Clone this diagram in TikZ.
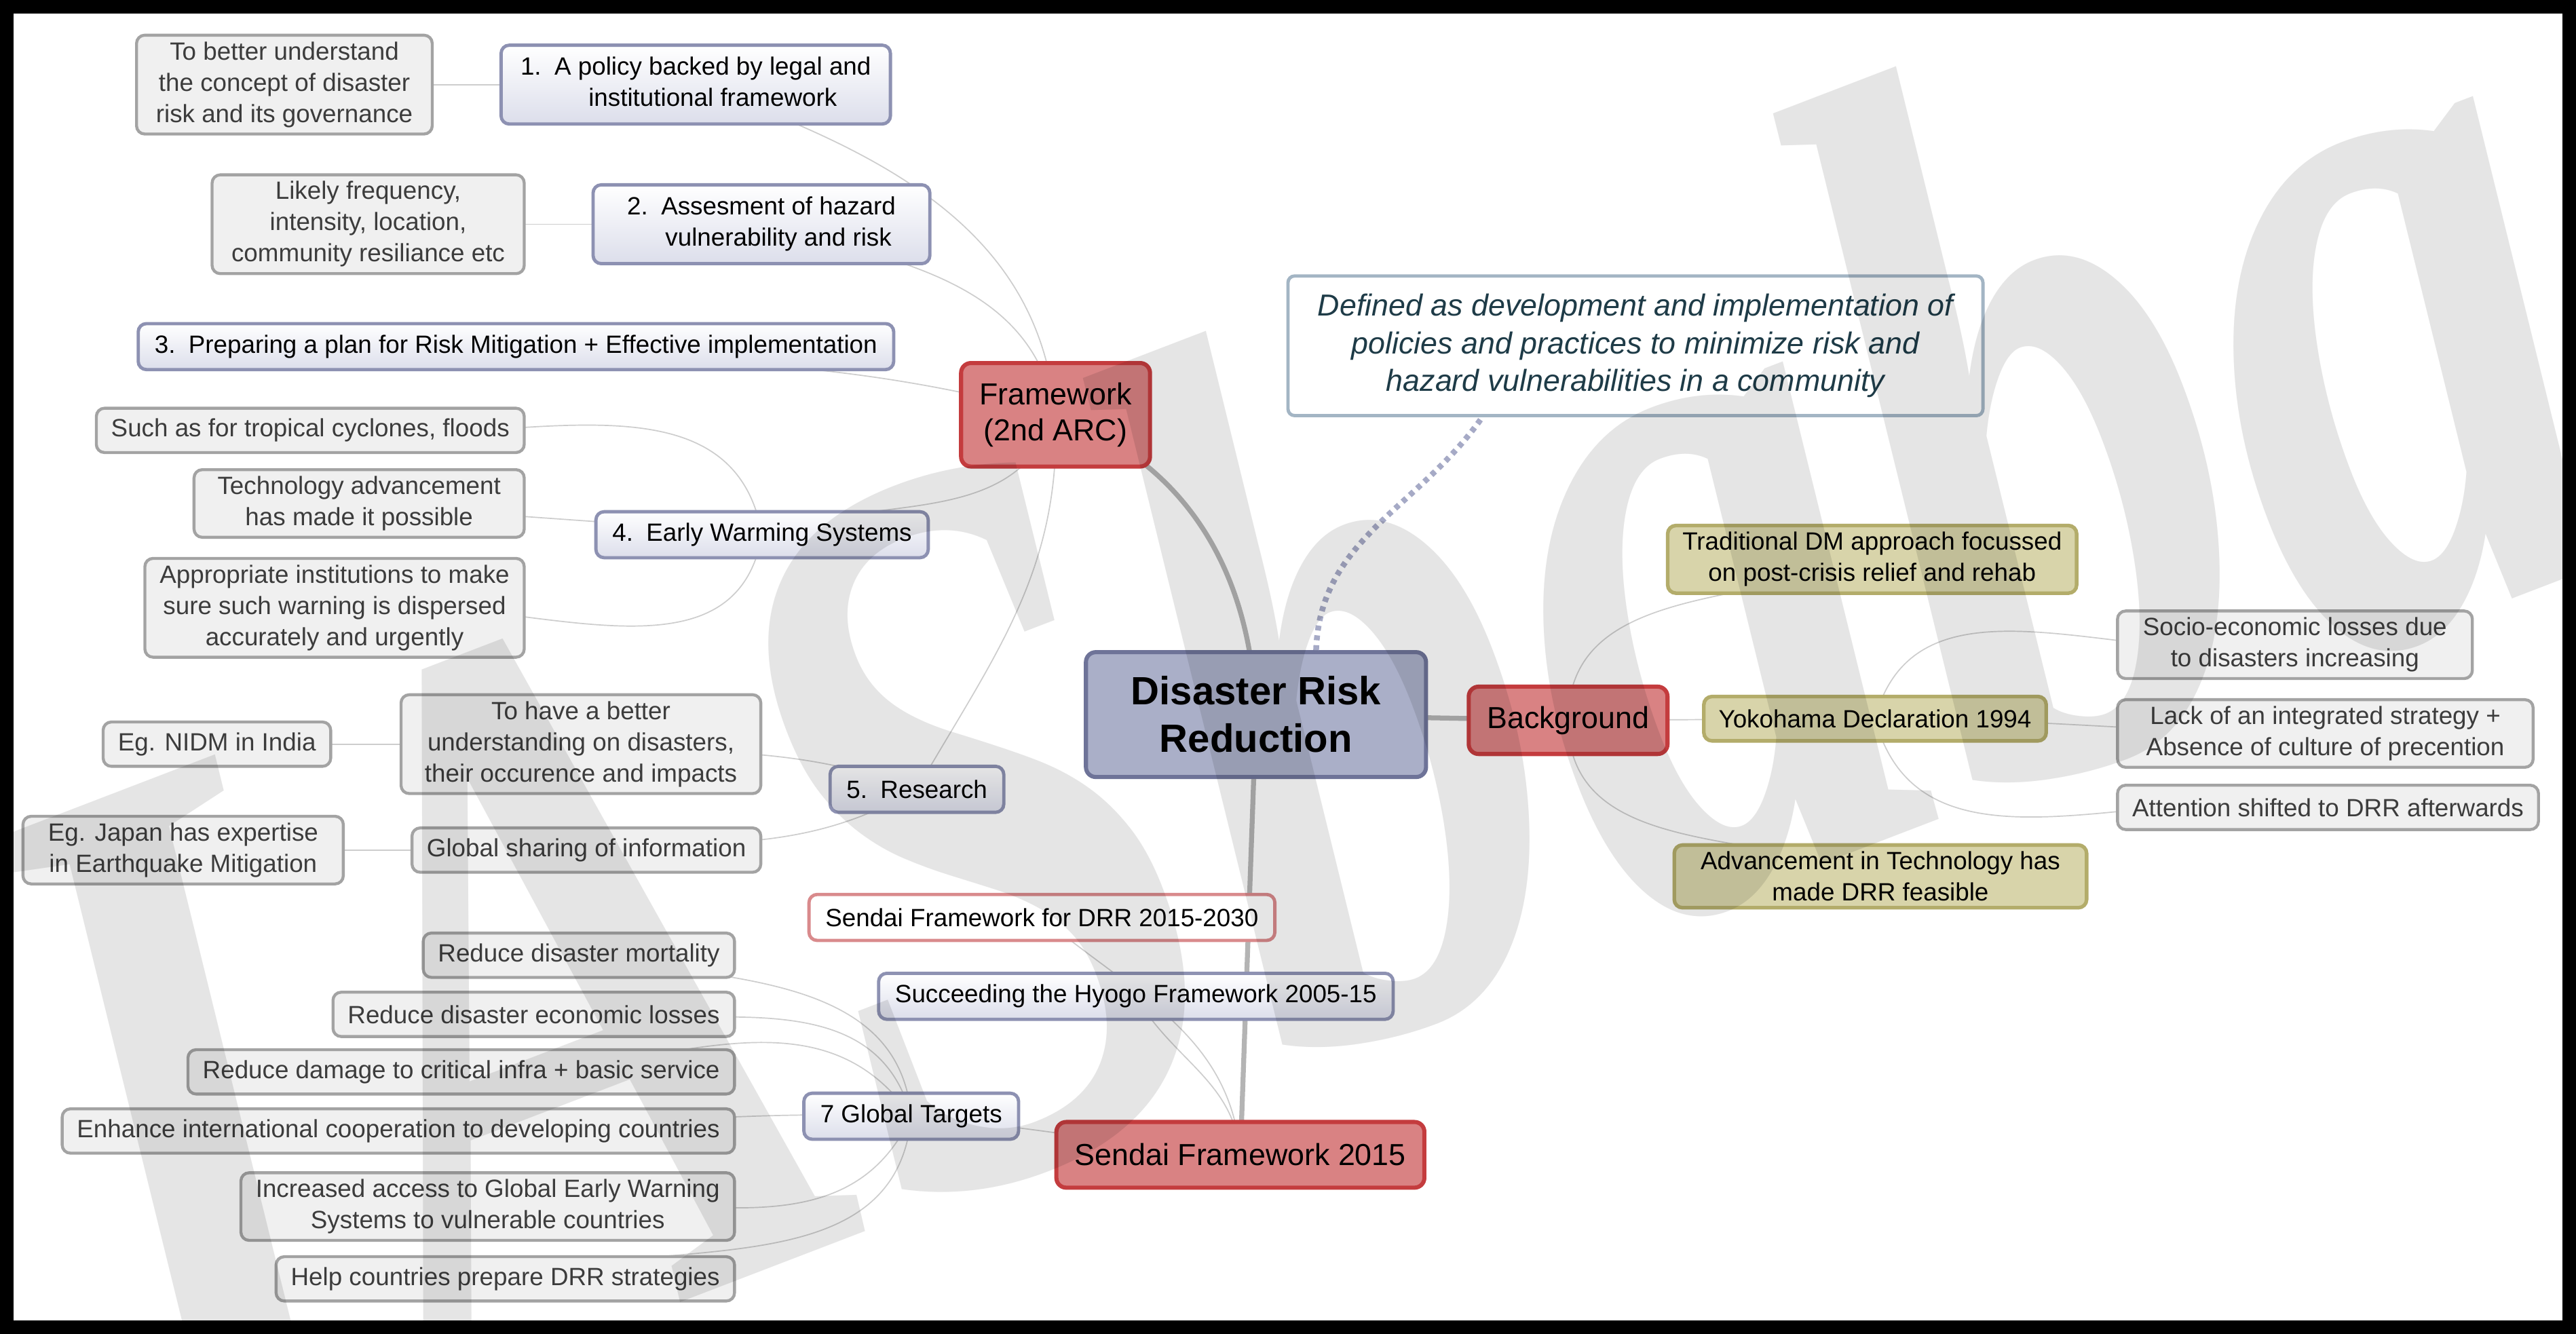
\documentclass[tikz,border=0pt]{standalone}
\usepackage{fontspec}
\setmainfont{Liberation Sans}
\newfontfamily\wmfont{Liberation Serif}
\usetikzlibrary{positioning,backgrounds}

\definecolor{drrFill}{RGB}{170,175,200}
\definecolor{drrEdge}{RGB}{110,115,152}
\definecolor{topicFill}{RGB}{217,130,131}
\definecolor{topicEdge}{RGB}{196,60,62}
\definecolor{subFill}{RGB}{220,222,235}
\definecolor{subEdge}{RGB}{141,145,178}
\definecolor{pinkEdge}{RGB}{217,138,140}
\definecolor{leafFill}{RGB}{240,240,240}
\definecolor{leafEdge}{RGB}{163,163,163}
\definecolor{leafText}{RGB}{60,60,60}
\definecolor{oliveFill}{RGB}{216,212,170}
\definecolor{oliveEdge}{RGB}{179,172,106}
\definecolor{noteEdge}{RGB}{163,181,196}
\definecolor{noteText}{RGB}{30,59,71}
\definecolor{branchGray}{RGB}{180,180,180}
\definecolor{twigGray}{RGB}{205,205,205}
\definecolor{dotLine}{RGB}{166,170,198}

\tikzset{
	root/.style={rounded corners=6pt, draw=drrEdge, fill=drrFill, line width=2.5pt,
		font=\fontsize{24}{29}\selectfont\bfseries, align=center,
		minimum width=207pt, minimum height=76pt},
	topic/.style={rounded corners=6pt, draw=topicEdge, fill=topicFill, line width=2.5pt,
		font=\fontsize{18.5}{22}\selectfont, align=center, inner sep=0pt},
	sub/.style={rounded corners=5pt, draw=subEdge, top color=white, bottom color=subFill,
		line width=2pt, font=\fontsize{15.2}{19}\selectfont, align=center,
		inner xsep=10pt, inner ysep=5pt, minimum height=28pt},
	subred/.style={sub, draw=pinkEdge, top color=white, bottom color=white},
	leaf/.style={rounded corners=5pt, draw=leafEdge, fill=leafFill, line width=1.8pt,
		text=leafText, font=\fontsize{15.2}{19}\selectfont, align=center,
		inner xsep=9pt, inner ysep=4pt, minimum height=27pt},
	olive/.style={leaf, draw=oliveEdge, fill=oliveFill, text=black, line width=2.2pt},
	note/.style={rounded corners=4pt, draw=noteEdge, fill=white, line width=2pt,
		text=noteText, font=\fontsize{18.5}{23}\selectfont\itshape, align=center,
		minimum width=423pt, minimum height=85pt},
	branch/.style={draw=branchGray, line width=3pt},
	twig/.style={draw=twigGray, line width=0.7pt},
}

\begin{document}
\begin{tikzpicture}[x=1pt,y=1pt]
\useasboundingbox (0,0) rectangle (1568,-812);
\begin{scope}[on background layer]
	\fill[black] (0,0) rectangle (1568,-812);
	\fill[white] (8.3,-8.3) rectangle (1559.7,-803.7);
\end{scope}

% main topics
\node[root] (drr) at (764.5,-435) {Disaster Risk\\Reduction};
\node[topic, minimum width=115pt, minimum height=63pt] (fw) at (642.5,-252.5) {Framework\\(2nd ARC)};
\node[topic, minimum width=121pt, minimum height=41pt] (bg) at (954.5,-438.5) {Background};
\node[topic, minimum width=224pt, minimum height=40pt] (sendai) at (755,-703) {Sendai Framework 2015};
\node[note] (def) at (995.5,-210.5) {Defined as development and implementation of\\policies and practices to minimize risk and\\hazard vulnerabilities in a community};

% framework
\node[sub, anchor=east, minimum width=237pt] (p1) at (543,-51.5) {1.\hspace{8pt}\begin{tabular}[t]{@{}c@{}}A policy backed by legal and\\institutional framework\end{tabular}};
\node[leaf, left=40pt of p1, minimum width=180pt] (p1note) {To better understand\\the concept of disaster\\risk and its governance};
\node[sub, anchor=east, minimum width=205pt] (p2) at (567,-136.5) {2.\hspace{8pt}\begin{tabular}[t]{@{}c@{}}Assesment of hazard\\vulnerability and risk\end{tabular}};
\node[leaf, left=40pt of p2, minimum width=190pt] (p2note) {Likely frequency,\\intensity, location,\\community resiliance etc};
\node[sub, anchor=east] (p3) at (545,-211) {3.\hspace{8pt}Preparing a plan for Risk Mitigation + Effective implementation};
\node[sub, anchor=east] (p4) at (566,-325.5) {4.\hspace{8pt}Early Warming Systems};
\node[leaf, anchor=east] (p4a) at (320,-262) {Such as for tropical cyclones, floods};
\node[leaf, anchor=east, minimum width=201pt] (p4b) at (320,-306.5) {Technology advancement\\has made it possible};
\node[leaf, anchor=east] (p4c) at (320,-370) {Appropriate institutions to make\\sure such warning is dispersed\\accurately and urgently};
\node[sub, anchor=east] (p5) at (612,-480.5) {5.\hspace{8pt}Research};
\node[leaf, anchor=east, minimum width=219pt] (p5a) at (464,-453) {To have a better\\understanding on disasters,\\their occurence and impacts};
\node[leaf, left=41pt of p5a, minimum width=134pt] (p5a1) {Eg. NIDM in India};
\node[leaf, anchor=east] (p5b) at (464,-517.5) {Global sharing of information};
\node[leaf, left=40pt of p5b, minimum width=195pt] (p5b1) {Eg. Japan has expertise\\in Earthquake Mitigation};

% sendai
\node[subred, anchor=east] (s2030) at (777,-558.5) {Sendai Framework for DRR 2015-2030};
\node[sub, anchor=east] (hyogo) at (849,-606.5) {Succeeding the Hyogo Framework 2005-15};
\node[sub, anchor=east] (targets) at (621,-679.5) {7 Global Targets};
\foreach \n/\y/\txt in {1/581.5/Reduce disaster mortality,
		2/617.5/Reduce disaster economic losses,
		3/652.5/Reduce damage to critical infra + basic service,
		4/688.5/Enhance international cooperation to developing countries,
		5/734.5/Increased access to Global Early Warning\\Systems to vulnerable countries,
		6/778.5/Help countries prepare DRR strategies} {
	\node[leaf, anchor=east] (t\n) at (448,-\y) {\txt};
};

% background
\node[olive, anchor=west] (trad) at (1014,-340.5) {Traditional DM approach focussed\\on post-crisis relief and rehab};
\node[olive, anchor=west] (yoko) at (1036,-437.5) {Yokohama Declaration 1994};
\node[olive, anchor=west, minimum width=251pt] (adv) at (1018,-533.5) {Advancement in Technology has\\made DRR feasible};
\node[leaf, anchor=west, minimum width=216pt] (socio) at (1288,-392.5) {Socio-economic losses due\\to disasters increasing};
\node[leaf, anchor=west, minimum width=253pt] (lack) at (1288,-446.5) {Lack of an integrated strategy +\\Absence of culture of precention};
\node[leaf, anchor=west] (attn) at (1288,-491.5) {Attention shifted to DRR afterwards};

% links
\begin{scope}[on background layer]
	\path[branch]
		(drr.center) edge[out=92, in=-20] (fw.center)
		(drr.center) edge (bg.center)
		(drr.center) edge (sendai.center);
	\path[twig]
		(fw.center) edge[out=95, in=-20] (p1.center)
		(fw.center) edge[out=100, in=-15] (p2.center)
		(fw.center) edge[out=165, in=-5] (p3.center)
		(fw.center) edge[out=-110, in=20] (p4.center)
		(fw.center) edge[out=-88, in=60] (p5.center)
		(p1.center) edge (p1note.center)
		(p2.center) edge (p2note.center)
		(p4.center) edge[out=100, in=-8] (p4a.center)
		(p4.center) edge[out=175, in=-5] (p4b.center)
		(p4.center) edge[out=-100, in=8] (p4c.center)
		(p5.center) edge[out=160, in=-5] (p5a.center)
		(p5.center) edge[out=-150, in=5] (p5b.center)
		(p5a.center) edge (p5a1.center)
		(p5b.center) edge (p5b1.center)
		(sendai.center) edge[out=95, in=-40] (s2030.center)
		(sendai.center) edge[out=95, in=-60] (hyogo.center)
		(sendai.center) edge[out=175, in=-5] (targets.center)
		(bg.center) edge[out=90, in=-160] (trad.center)
		(bg.center) edge (yoko.center)
		(bg.center) edge[out=-90, in=160] (adv.center)
		(yoko.center) edge[out=75, in=190] (socio.center)
		(yoko.center) edge[out=0, in=180] (lack.center)
		(yoko.center) edge[out=-75, in=170] (attn.center);
	\foreach \n/\o/\i in {1/95/-10, 2/105/-8, 3/125/-5, 4/178/0, 5/-115/10, 6/-95/15} {
		\draw[twig] (targets.center) to[out=\o, in=\i] (t\n.center);
	};
\end{scope}
\draw[dotLine, line width=3.5pt, dash pattern=on 3pt off 3pt] (drr.47) to[out=88, in=-125] (def.205);

% watermark
\begin{scope}[shift={(785,-420)}, rotate=21, yscale=1.4, transform shape]
	\node[text=black, text opacity=0.1, inner sep=0pt, font=\fontsize{450}{450}\selectfont\wmfont\bfseries\itshape] (wm) at (0,0) {IASbaba};
\end{scope}
\end{tikzpicture}
\end{document}
